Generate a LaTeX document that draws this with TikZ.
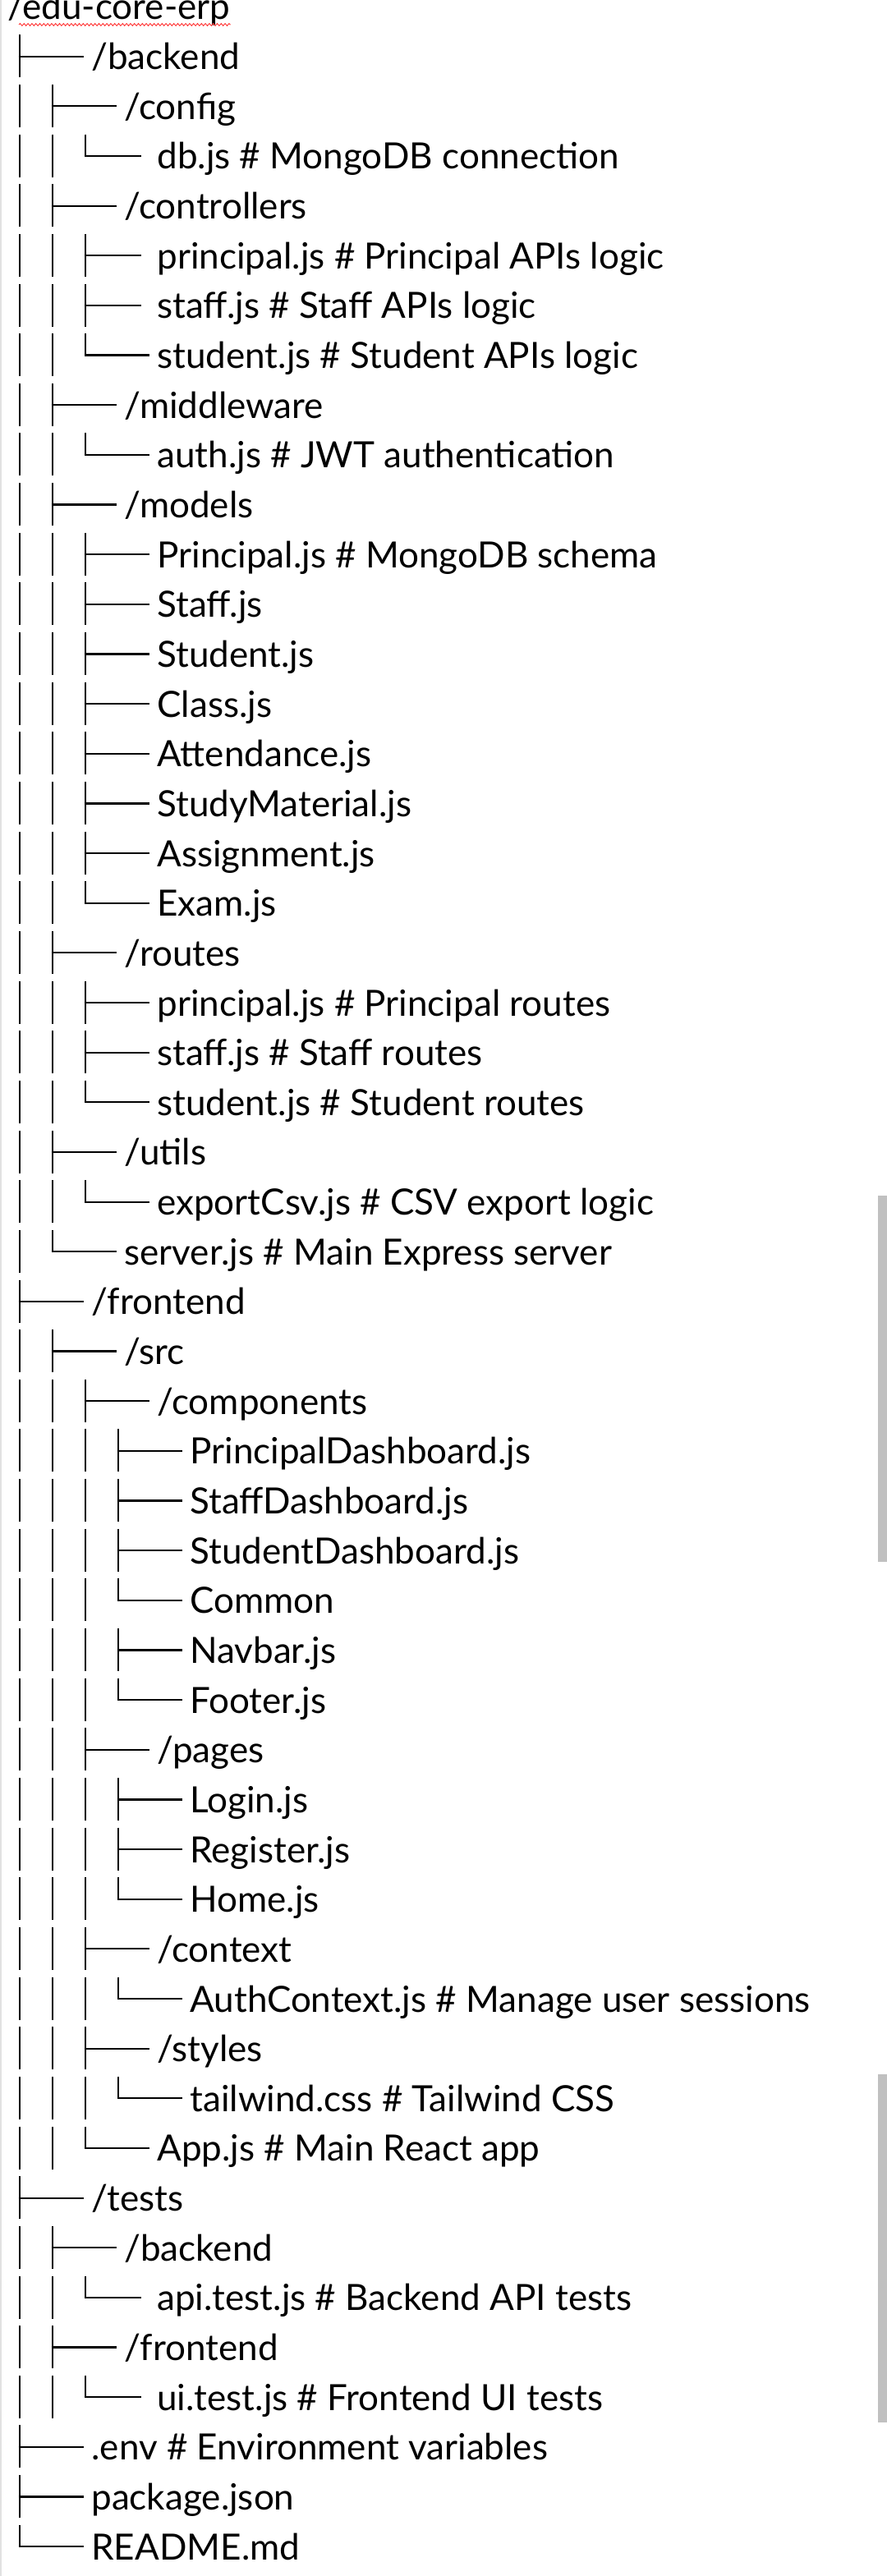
\documentclass[tikz,border=0pt]{standalone}
\usepackage{fontspec}
\setmainfont{Lato}
\usetikzlibrary{decorations.pathmorphing}

\definecolor{scrollgray}{RGB}{192,192,192}
\definecolor{edgegray}{RGB}{225,225,225}

\tikzset{
    entry/.style={anchor=base west, inner xsep=4.5pt, inner ysep=0pt,
                  text height=21pt, text depth=5pt,
                  font=\fontsize{22}{26}\selectfont},
    pipe/.style={line width=1.4pt, dash pattern=on 26pt off 4.325pt},
    lastpipe/.style={pipe, shorten >=-0.55pt},
    branch/.style={line width=1.1pt, shorten <=-0.7pt},
    squiggle/.style={draw=red!80, line width=0.45pt, decorate,
                     decoration={snake, amplitude=0.7pt, segment length=2.4pt}}
}

\begin{document}
\begin{tikzpicture}[x=1pt,y=-1pt]
    \fill[white] (0,0) rectangle (540,1568.5);
    \useasboundingbox (0,0) rectangle (540,1568.5);
    \fill[edgegray] (0,0) rectangle (1.2,1568.5);

    % columns of the tree
    \coordinate (c1) at (12,0);
    \coordinate (c2) at (32,0);
    \coordinate (c3) at (52,0);
    \coordinate (c4) at (72,0);

    % root
    \node[entry, inner xsep=0pt] (root) at (4.5,12) {/edu-core-erp};
    \draw[squiggle] ([xshift=7pt,yshift=-3pt]root.base west) -- ([yshift=-3pt]root.base east);

    % backend
    \node[entry] (backend)       at (51,42.325)  {/backend};
    \node[entry] (config)        at (71,72.65)   {/config};
    \node[entry] (db)            at (91,102.975) {db.js \# MongoDB connection};
    \node[entry] (controllers)   at (71,133.3)   {/controllers};
    \node[entry] (ctrlprincipal) at (91,163.625) {principal.js \# Principal APIs logic};
    \node[entry] (ctrlstaff)     at (91,193.95)  {staff.js \# Staff APIs logic};
    \node[entry] (ctrlstudent)   at (91,224.275) {student.js \# Student APIs logic};
    \node[entry] (middleware)    at (71,254.6)   {/middleware};
    \node[entry] (auth)          at (91,284.925) {auth.js \# JWT authentication};
    \node[entry] (models)        at (71,315.25)  {/models};
    \node[entry] (mprincipal)    at (91,345.575) {Principal.js \# MongoDB schema};
    \node[entry] (mstaff)        at (91,375.9)   {Staff.js};
    \node[entry] (mstudent)      at (91,406.225) {Student.js};
    \node[entry] (mclass)        at (91,436.55)  {Class.js};
    \node[entry] (attendance)    at (91,466.875) {Attendance.js};
    \node[entry] (studymat)      at (91,497.2)   {StudyMaterial.js};
    \node[entry] (assignment)    at (91,527.525) {Assignment.js};
    \node[entry] (exam)          at (91,557.85)  {Exam.js};
    \node[entry] (routes)        at (71,588.175) {/routes};
    \node[entry] (rprincipal)    at (91,618.5)   {principal.js \# Principal routes};
    \node[entry] (rstaff)        at (91,648.825) {staff.js \# Staff routes};
    \node[entry] (rstudent)      at (91,679.15)  {student.js \# Student routes};
    \node[entry] (utils)         at (71,709.475) {/utils};
    \node[entry] (exportcsv)     at (91,739.8)   {exportCsv.js \# CSV export logic};
    \node[entry] (server)        at (71,770.125) {server.js \# Main Express server};

    % frontend
    \node[entry] (frontend)   at (51,800.45)    {/frontend};
    \node[entry] (src)        at (71,830.775)   {/src};
    \node[entry] (components) at (91,861.1)     {/components};
    \node[entry] (pdash)      at (111,891.425)  {PrincipalDashboard.js};
    \node[entry] (sdash)      at (111,921.75)   {StaffDashboard.js};
    \node[entry] (stdash)     at (111,952.075)  {StudentDashboard.js};
    \node[entry] (common)     at (111,982.4)    {Common};
    \node[entry] (navbar)     at (111,1012.725) {Navbar.js};
    \node[entry] (footer)     at (111,1043.05)  {Footer.js};
    \node[entry] (pages)      at (91,1073.375)  {/pages};
    \node[entry] (login)      at (111,1103.7)   {Login.js};
    \node[entry] (register)   at (111,1134.025) {Register.js};
    \node[entry] (home)       at (111,1164.35)  {Home.js};
    \node[entry] (context)    at (91,1194.675)  {/context};
    \node[entry] (authctx)    at (111,1225)     {AuthContext.js \# Manage user sessions};
    \node[entry] (styles)     at (91,1255.325)  {/styles};
    \node[entry] (tailwind)   at (111,1285.65)  {tailwind.css \# Tailwind CSS};
    \node[entry] (app)        at (91,1315.975)  {App.js \# Main React app};

    % tests
    \node[entry] (tests)     at (51,1346.3)   {/tests};
    \node[entry] (tbackend)  at (71,1376.625) {/backend};
    \node[entry] (apitest)   at (91,1406.95)  {api.test.js \# Backend API tests};
    \node[entry] (tfrontend) at (71,1437.275) {/frontend};
    \node[entry] (uitest)    at (91,1467.6)   {ui.test.js \# Frontend UI tests};

    % top level files
    \node[entry] (env)    at (51,1497.925) {.env \# Environment variables};
    \node[entry] (pkg)    at (51,1528.25)  {package.json};
    \node[entry] (readme) at (51,1558.575) {README.md};

    % vertical runs
    \draw[lastpipe] (c1 |- backend.north) -- (c1 |- readme.west);
    \draw[lastpipe] (c2 |- config.north) -- (c2 |- server.west);
    \draw[pipe]     (c2 |- src.north) -- (c2 |- app.south);
    \draw[pipe]     (c2 |- tbackend.north) -- (c2 |- uitest.south);
    \draw[lastpipe] (c3 |- db.north) -- (c3 |- db.west);
    \draw[lastpipe] (c3 |- ctrlprincipal.north) -- (c3 |- ctrlstudent.west);
    \draw[lastpipe] (c3 |- auth.north) -- (c3 |- auth.west);
    \draw[lastpipe] (c3 |- mprincipal.north) -- (c3 |- exam.west);
    \draw[lastpipe] (c3 |- rprincipal.north) -- (c3 |- rstudent.west);
    \draw[lastpipe] (c3 |- exportcsv.north) -- (c3 |- exportcsv.west);
    \draw[lastpipe] (c3 |- components.north) -- (c3 |- app.west);
    \draw[lastpipe] (c3 |- apitest.north) -- (c3 |- apitest.west);
    \draw[lastpipe] (c3 |- uitest.north) -- (c3 |- uitest.west);
    \draw[lastpipe] (c4 |- pdash.north) -- (c4 |- common.west);
    \draw[lastpipe] (c4 |- navbar.north) -- (c4 |- footer.west);
    \draw[lastpipe] (c4 |- login.north) -- (c4 |- home.west);
    \draw[lastpipe] (c4 |- authctx.north) -- (c4 |- authctx.west);
    \draw[lastpipe] (c4 |- tailwind.north) -- (c4 |- tailwind.west);

    % branches
    \foreach \n in {backend,frontend,tests,env,pkg,readme}
        \draw[branch] (c1 |- \n.west) -- (\n.west);
    \foreach \n in {config,controllers,middleware,models,routes,utils,server,src,tbackend,tfrontend}
        \draw[branch] (c2 |- \n.west) -- (\n.west);
    \foreach \n in {ctrlstudent,auth,mprincipal,mstaff,mstudent,mclass,attendance,studymat,assignment,exam,
                    rprincipal,rstaff,rstudent,exportcsv,components,pages,context,styles,app}
        \draw[branch] (c3 |- \n.west) -- (\n.west);
    \foreach \n in {db,ctrlprincipal,ctrlstaff,apitest,uitest}
        \draw[branch, shorten >=5pt] (c3 |- \n.west) -- (\n.west);
    \foreach \n in {pdash,sdash,stdash,common,navbar,footer,login,register,home,authctx,tailwind}
        \draw[branch] (c4 |- \n.west) -- (\n.west);

    % scroll bars
    \fill[scrollgray] (534.5,728) rectangle (540,951);
    \fill[scrollgray] (534.5,1263) rectangle (540,1475);
\end{tikzpicture}
\end{document}
